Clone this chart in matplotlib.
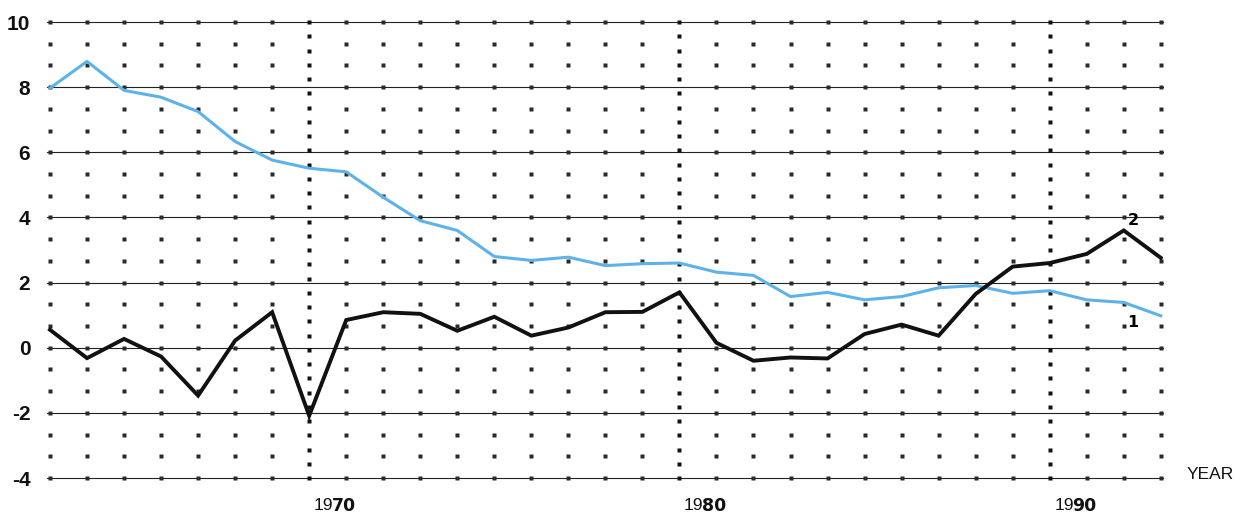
import numpy as np
import matplotlib.pyplot as plt

# Years (one point per column of the dot grid)
years = np.arange(1963, 1994)

# Series 1 (light blue)
series_1 = [7.97, 8.79, 7.90, 7.69, 7.25, 6.33, 5.76, 5.51, 5.40, 4.62,
            3.90, 3.60, 2.80, 2.68, 2.78, 2.52, 2.58, 2.60, 2.32, 2.22,
            1.57, 1.70, 1.47, 1.57, 1.84, 1.91, 1.67, 1.75, 1.47, 1.39,
            0.98]

# Series 2 (black)
series_2 = [0.55, -0.32, 0.27, -0.27, -1.47, 0.22, 1.09, -2.09, 0.85, 1.09,
            1.04, 0.52, 0.95, 0.37, 0.62, 1.09, 1.10, 1.70, 0.15, -0.40,
            -0.30, -0.33, 0.42, 0.71, 0.37, 1.65, 2.49, 2.60, 2.88, 3.60,
            2.76]

y_ticks = [10, 8, 6, 4, 2, 0, -2, -4]
decades = [1970, 1980, 1990]

BLUE = '#5EB2EA'
INK = '#111111'

fig = plt.figure(figsize=(12.47, 5.18), dpi=100)
ax = fig.add_axes([47 / 1247, 40 / 518, 1116 / 1247, 456 / 518])

x0, x1 = years[0] - 0.081, years[-1] + 0.06
ax.set_xlim(x0, x1)
ax.set_ylim(-4, 10)
for s in ax.spines.values():
    s.set_visible(False)

# Horizontal rules.
for v in y_ticks:
    ax.axhline(v, color='#222222', lw=0.8, zorder=1, clip_on=False)

# Small dot grid (every year, every 2/3 unit).
rows = np.linspace(-4, 10, 22)
cols = [y for y in years if y not in decades]
gx, gy = np.meshgrid(cols, rows)
ax.plot(gx.ravel(), gy.ravel(), 's', ms=2.3, color='#2a2a2a', mec='none',
        zorder=2, clip_on=False)

# Heavy dotted decade markers.
for d in decades:
    ax.plot([d] * 33, np.linspace(-4, 10, 33), 's', ms=3.4, color=INK,
            mec='none', zorder=3, clip_on=False)

# Data lines.
ax.plot(years, series_1, color=BLUE, lw=2.2, zorder=4, solid_joinstyle='round')
ax.plot(years, series_2, color=INK, lw=2.8, zorder=5, solid_joinstyle='miter')

# Series labels.
ax.text(1992.25, 3.92, '2', fontsize=11.5, fontweight='bold', ha='center',
        va='center', family='DejaVu Sans', zorder=6)
ax.text(1992.25, 0.78, '1', fontsize=11.5, fontweight='bold', ha='center',
        va='center', family='DejaVu Sans', zorder=6)

# Y axis labels.
ax.set_xticks([])
ax.set_yticks(y_ticks)
ax.set_yticklabels([str(v) for v in y_ticks], fontsize=15, fontweight='bold',
                   family='Liberation Sans')
ax.tick_params(axis='y', length=0, pad=12, colors='#111111')

# Decade labels: "19" plain, last two digits heavy.
for d in decades:
    xb = d + 0.65
    ax.text(xb, -4.85, '19', fontsize=12.5, ha='right', va='center',
            family='Liberation Sans', color='#111111')
    ax.text(xb - 0.04, -4.85, str(d)[2:], fontsize=12.5, fontweight='bold',
            ha='left', va='center', family='DejaVu Sans', color='#111111')

ax.text(years[-1] + 0.7, -3.9, 'YEAR', fontsize=12.5, ha='left', va='center',
        family='Liberation Sans', color='#111111')

fig.savefig('out.png', dpi=100, facecolor='white')
